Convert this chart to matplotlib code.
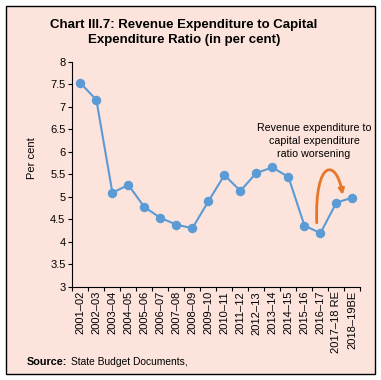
import matplotlib
matplotlib.use("Agg")
import matplotlib.pyplot as plt
from matplotlib.patches import Rectangle, FancyArrowPatch
from matplotlib.path import Path

plt.rcParams['font.family'] = ['Liberation Sans', 'DejaVu Sans']

years = ['2001–02', '2002–03', '2003–04', '2004–05', '2005–06', '2006–07',
         '2007–08', '2008–09', '2009–10', '2010–11', '2011–12', '2012–13',
         '2013–14', '2014–15', '2015–16', '2016–17', '2017–18 RE', '2018–19BE']
ratio = [7.53, 7.15, 5.09, 5.26, 4.77, 4.53, 4.38, 4.30, 4.90, 5.48,
         5.13, 5.53, 5.65, 5.44, 4.36, 4.19, 4.87, 4.98]
yticks = [3, 3.5, 4, 4.5, 5, 5.5, 6, 6.5, 7, 7.5, 8]

bg = '#fce4dc'
blue = '#5b9bd5'
orange = '#e8762a'

fig = plt.figure(figsize=(3.81, 3.80), dpi=100)
fig.patch.set_facecolor('white')
# framed pink panel
fig.patches.append(Rectangle((6 / 381, 6 / 380), 369 / 381, 368 / 380,
                             transform=fig.transFigure, facecolor=bg,
                             edgecolor='black', lw=1.0, zorder=-5))

ax = fig.add_axes([0.190, 0.2455, 0.756, 0.592])
ax.set_facecolor('none')
ax.set_zorder(2)

x = list(range(len(years)))
ax.plot(x, ratio, color=blue, lw=1.5, marker='o', ms=5.8, zorder=3)

ax.set_xlim(-0.5, len(years) - 0.5)
ax.set_ylim(3, 8)
ax.set_yticks(yticks)
ax.set_yticklabels(['%g' % t for t in yticks], fontsize=8)
ax.set_xticks(x)
ax.set_xticklabels(years, rotation=90, fontsize=8)
ax.set_xticks([i - 0.5 for i in range(len(years) + 1)], minor=True)
ax.tick_params(axis='x', which='major', length=0, pad=3)
ax.tick_params(axis='x', which='minor', length=3, width=0.8)
ax.tick_params(axis='y', length=3, width=0.8, pad=2)
for s in ['top', 'right']:
    ax.spines[s].set_visible(False)
for s in ['left', 'bottom']:
    ax.spines[s].set_linewidth(0.8)
ax.set_ylabel('Per cent', fontsize=8)
ax.yaxis.set_label_coords(-0.122, 0.572)

# curved arrow
verts = [(14.77, 4.42), (14.64, 5.85), (16.0, 5.85), (16.39, 5.04)]
codes = [Path.MOVETO, Path.CURVE4, Path.CURVE4, Path.CURVE4]
arr = FancyArrowPatch(path=Path(verts, codes), arrowstyle='-|>',
                      mutation_scale=8, lw=2, color=orange, zorder=4)
ax.add_patch(arr)
ax.text(14.6, 6.24, 'Revenue expenditure to\ncapital expenditure\nratio worsening',
        ha='center', va='center', fontsize=7.7, linespacing=1.35)

fig.text(0.483, 0.915, 'Chart III.7: Revenue Expenditure to Capital\nExpenditure Ratio (in per cent)',
         ha='center', va='center', fontsize=9.5, fontweight='bold', linespacing=1.3)
fig.text(0.071, 0.047, 'Source:', fontsize=7.8, fontweight='bold', va='center')
fig.text(0.186, 0.047, 'State Budget Documents,', fontsize=7.4, va='center')

fig.savefig('out.png', dpi=100)
